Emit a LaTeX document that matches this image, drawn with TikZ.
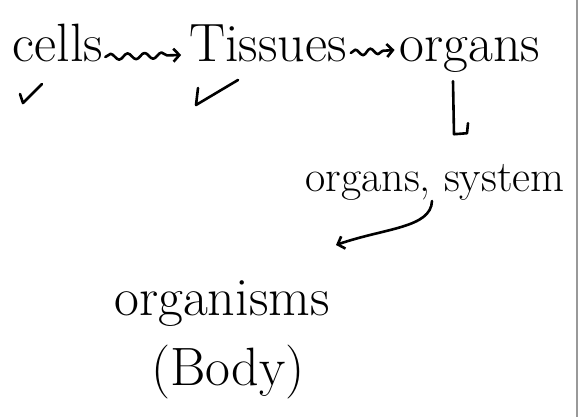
\documentclass[tikz,border=0pt]{standalone}
\usepackage{tikz}
\usetikzlibrary{arrows.meta,positioning,decorations.pathmorphing}

\begin{document}
\begin{tikzpicture}[x=1pt,y=-1pt,>={Straight Barb[length=6pt,width=13pt]},
  pen/.style={line width=2.6pt,line cap=round,line join=round},
  big/.style={inner sep=0pt,anchor=base,font=\fontsize{54}{60}\selectfont},
  mid/.style={inner sep=0pt,anchor=base,font=\fontsize{44}{50}\selectfont},
  wavy/.style={pen,->,decorate,decoration={snake,amplitude=3pt,segment length=17pt,post length=7pt}},
  checkmk/.style={pen}]
\useasboundingbox (0,0) rectangle (584,417);
\fill[white] (0,0) rectangle (584,417);
\draw[gray!80,line width=1.6pt] (577,0) -- (577,417);
% top row
\node[big] (cells) at (58,62) {cells};
\node[big] (tissues) at (268,62) {Tissues};
\node[big] (organs) at (470,62) {organs};
\draw[wavy] ([xshift=2pt,yshift=5pt]cells.base east) -- ([xshift=-8pt,yshift=7pt]tissues.base west);
\draw[wavy,decoration={post length=7pt,segment length=15pt}] ([xshift=4pt,yshift=9pt]tissues.base east) -- ([xshift=-5pt,yshift=12pt]organs.base west);
\draw[checkmk] (20,94) -- (23,103) -- (42,84);
\draw[checkmk] (198,88) -- (196,105) -- (238,80);
% organs -> organs system
\draw[pen] ([xshift=-17pt,yshift=-8pt]organs.south) -- ++(1,53) -- ++(13,-1) -- ++(1,-10);
\node[mid] (orgsys) at (435,192) {organs, system};
% organs system -> organisms
\node[big] (organisms) at (222,315) {organisms};
\node[big] (body) at (228,385) {(Body)};
\coordinate (arrend) at (336,245);
\draw[pen,->] ([xshift=-3pt,yshift=-9pt]orgsys.base) .. controls (431,228) and (385,228) .. (arrend);
\end{tikzpicture}
\end{document}
